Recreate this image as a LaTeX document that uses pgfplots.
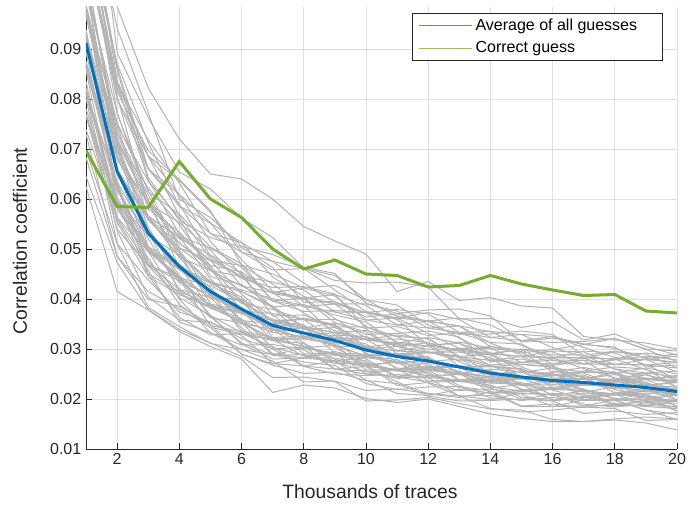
\documentclass[border=0pt]{standalone}
\usepackage{fontspec}
\setmainfont{Liberation Sans}
\usepackage{pgfplots}
\usepackage{pgfplotstable}
\pgfplotsset{compat=1.18}
\usetikzlibrary{calc}

\definecolor{avgblue}{HTML}{0072BD}
\definecolor{okgreen}{HTML}{77AC30}
\definecolor{guessgray}{RGB}{179,179,179}
\definecolor{gridgray}{RGB}{223,223,223}
\definecolor{axisgray}{RGB}{38,38,38}

% key guesses, first group (x in thousands of traces)
\pgfplotstableread{
x g1 g2 g3 g4 g5 g6 g7 g8 g9 g10 g11 g12 g13 g14 g15 g16 g17 g18 g19 g20 g21 g22 g23 g24 g25 g26 g27 g28 g29 g30 g31 g32 g33 g34 g35 g36 g37 g38 g39 g40
1 0.0625 0.0645 0.0698 0.0683 0.0739 0.0802 0.0767 0.0817 0.0835 0.0771 0.0862 0.0780 0.0814 0.0865 0.0823 0.0866 0.0929 0.0876 0.0921 0.0939 0.0866 0.0967 0.0874 0.0911 0.0967 0.0920 0.0967 0.1035 0.0975 0.1033 0.1062 0.0988 0.1111 0.1020 0.1080 0.1172 0.1147 0.1249 0.1401 0.1400
2 0.0415 0.0473 0.0511 0.0485 0.0558 0.0511 0.0540 0.0581 0.0553 0.0583 0.0625 0.0590 0.0621 0.0633 0.0585 0.0653 0.0591 0.0616 0.0655 0.0622 0.0655 0.0702 0.0661 0.0695 0.0708 0.0654 0.0729 0.0659 0.0686 0.0735 0.0705 0.0747 0.0806 0.0771 0.0823 0.0858 0.0815 0.0942 0.0893 0.0985
3 0.0378 0.0379 0.0383 0.0415 0.0457 0.0438 0.0466 0.0482 0.0445 0.0497 0.0450 0.0469 0.0499 0.0475 0.0500 0.0535 0.0506 0.0531 0.0542 0.0501 0.0559 0.0505 0.0527 0.0559 0.0531 0.0559 0.0598 0.0563 0.0592 0.0608 0.0566 0.0636 0.0580 0.0614 0.0662 0.0643 0.0697 0.0773 0.0763 0.0822
4 0.0335 0.0339 0.0345 0.0381 0.0354 0.0374 0.0403 0.0389 0.0409 0.0439 0.0415 0.0436 0.0445 0.0410 0.0459 0.0415 0.0433 0.0460 0.0438 0.0460 0.0493 0.0465 0.0488 0.0498 0.0460 0.0512 0.0463 0.0483 0.0512 0.0492 0.0521 0.0562 0.0534 0.0570 0.0590 0.0557 0.0639 0.0599 0.0654 0.0720
5 0.0305 0.0312 0.0311 0.0343 0.0333 0.0354 0.0367 0.0343 0.0383 0.0347 0.0363 0.0386 0.0367 0.0386 0.0413 0.0390 0.0410 0.0419 0.0387 0.0432 0.0390 0.0406 0.0431 0.0410 0.0432 0.0462 0.0436 0.0457 0.0466 0.0434 0.0488 0.0445 0.0467 0.0504 0.0486 0.0523 0.0577 0.0563 0.0620 0.0650
6 0.0280 0.0285 0.0299 0.0290 0.0299 0.0321 0.0310 0.0331 0.0354 0.0335 0.0352 0.0360 0.0333 0.0371 0.0336 0.0350 0.0372 0.0354 0.0372 0.0399 0.0376 0.0396 0.0404 0.0371 0.0415 0.0375 0.0391 0.0415 0.0394 0.0418 0.0452 0.0429 0.0454 0.0470 0.0441 0.0503 0.0468 0.0505 0.0562 0.0640
7 0.0213 0.0243 0.0276 0.0268 0.0289 0.0300 0.0280 0.0317 0.0287 0.0300 0.0318 0.0303 0.0319 0.0342 0.0323 0.0340 0.0346 0.0320 0.0357 0.0323 0.0337 0.0357 0.0340 0.0357 0.0383 0.0360 0.0379 0.0386 0.0356 0.0401 0.0366 0.0384 0.0411 0.0396 0.0423 0.0463 0.0450 0.0489 0.0523 0.0600
8 0.0228 0.0244 0.0234 0.0251 0.0274 0.0265 0.0282 0.0306 0.0289 0.0304 0.0311 0.0287 0.0320 0.0290 0.0303 0.0321 0.0306 0.0322 0.0345 0.0326 0.0342 0.0348 0.0322 0.0359 0.0324 0.0339 0.0359 0.0341 0.0359 0.0387 0.0368 0.0389 0.0400 0.0375 0.0425 0.0393 0.0422 0.0464 0.0462 0.0545
9 0.0222 0.0235 0.0236 0.0254 0.0267 0.0250 0.0282 0.0259 0.0271 0.0288 0.0274 0.0288 0.0310 0.0292 0.0307 0.0313 0.0289 0.0322 0.0292 0.0305 0.0323 0.0307 0.0323 0.0347 0.0327 0.0343 0.0349 0.0322 0.0359 0.0328 0.0344 0.0368 0.0353 0.0377 0.0410 0.0395 0.0427 0.0451 0.0437 0.0516
10 0.0201 0.0196 0.0217 0.0237 0.0231 0.0247 0.0268 0.0256 0.0270 0.0276 0.0255 0.0285 0.0258 0.0269 0.0286 0.0272 0.0286 0.0306 0.0289 0.0304 0.0310 0.0286 0.0319 0.0289 0.0301 0.0319 0.0303 0.0319 0.0341 0.0325 0.0344 0.0354 0.0329 0.0373 0.0342 0.0364 0.0398 0.0392 0.0432 0.0490
11 0.0193 0.0198 0.0220 0.0231 0.0219 0.0249 0.0227 0.0241 0.0256 0.0244 0.0257 0.0275 0.0259 0.0273 0.0279 0.0257 0.0288 0.0259 0.0271 0.0288 0.0274 0.0288 0.0308 0.0291 0.0305 0.0311 0.0287 0.0320 0.0290 0.0305 0.0325 0.0312 0.0331 0.0359 0.0345 0.0370 0.0388 0.0371 0.0434 0.0415
12 0.0200 0.0203 0.0211 0.0206 0.0224 0.0243 0.0233 0.0247 0.0253 0.0234 0.0260 0.0236 0.0246 0.0262 0.0249 0.0262 0.0281 0.0265 0.0278 0.0284 0.0262 0.0293 0.0265 0.0275 0.0293 0.0278 0.0293 0.0313 0.0295 0.0313 0.0321 0.0299 0.0336 0.0308 0.0327 0.0355 0.0348 0.0378 0.0424 0.0435
13 0.0185 0.0191 0.0206 0.0196 0.0225 0.0206 0.0217 0.0235 0.0223 0.0235 0.0252 0.0238 0.0250 0.0256 0.0236 0.0264 0.0238 0.0248 0.0264 0.0251 0.0264 0.0283 0.0266 0.0280 0.0286 0.0263 0.0294 0.0265 0.0276 0.0296 0.0284 0.0301 0.0324 0.0311 0.0332 0.0346 0.0329 0.0380 0.0360 0.0397
14 0.0170 0.0180 0.0181 0.0197 0.0216 0.0207 0.0220 0.0228 0.0211 0.0235 0.0213 0.0222 0.0237 0.0225 0.0237 0.0253 0.0240 0.0251 0.0257 0.0237 0.0265 0.0240 0.0249 0.0265 0.0252 0.0265 0.0283 0.0267 0.0280 0.0288 0.0268 0.0301 0.0274 0.0291 0.0313 0.0305 0.0330 0.0366 0.0361 0.0403
15 0.0161 0.0178 0.0174 0.0200 0.0186 0.0197 0.0211 0.0204 0.0215 0.0230 0.0218 0.0229 0.0233 0.0216 0.0240 0.0218 0.0227 0.0242 0.0229 0.0242 0.0259 0.0244 0.0256 0.0261 0.0241 0.0269 0.0243 0.0253 0.0269 0.0257 0.0273 0.0295 0.0280 0.0299 0.0310 0.0292 0.0336 0.0314 0.0343 0.0386
16 0.0155 0.0159 0.0178 0.0196 0.0190 0.0203 0.0209 0.0196 0.0219 0.0198 0.0207 0.0220 0.0209 0.0220 0.0236 0.0223 0.0235 0.0239 0.0220 0.0247 0.0223 0.0232 0.0247 0.0234 0.0246 0.0264 0.0248 0.0262 0.0266 0.0248 0.0278 0.0254 0.0267 0.0288 0.0277 0.0299 0.0329 0.0322 0.0354 0.0382
17 0.0155 0.0155 0.0184 0.0171 0.0183 0.0197 0.0190 0.0203 0.0217 0.0205 0.0216 0.0220 0.0203 0.0228 0.0206 0.0214 0.0228 0.0217 0.0228 0.0245 0.0231 0.0242 0.0248 0.0228 0.0254 0.0230 0.0240 0.0254 0.0242 0.0256 0.0277 0.0263 0.0278 0.0288 0.0270 0.0309 0.0287 0.0309 0.0318 0.0325
18 0.0158 0.0160 0.0181 0.0176 0.0191 0.0197 0.0184 0.0208 0.0189 0.0197 0.0209 0.0199 0.0210 0.0225 0.0212 0.0224 0.0228 0.0210 0.0234 0.0212 0.0221 0.0235 0.0224 0.0235 0.0251 0.0237 0.0249 0.0254 0.0234 0.0264 0.0240 0.0252 0.0269 0.0260 0.0278 0.0304 0.0296 0.0321 0.0330 0.0318
19 0.0152 0.0164 0.0157 0.0169 0.0185 0.0178 0.0190 0.0206 0.0194 0.0204 0.0209 0.0193 0.0215 0.0195 0.0204 0.0216 0.0205 0.0216 0.0232 0.0219 0.0230 0.0234 0.0216 0.0242 0.0218 0.0227 0.0241 0.0229 0.0241 0.0260 0.0248 0.0262 0.0269 0.0252 0.0286 0.0264 0.0283 0.0300 0.0305 0.0312
20 0.0138 0.0160 0.0159 0.0173 0.0181 0.0169 0.0192 0.0176 0.0183 0.0195 0.0186 0.0196 0.0210 0.0198 0.0208 0.0212 0.0196 0.0219 0.0198 0.0207 0.0219 0.0208 0.0219 0.0234 0.0222 0.0233 0.0237 0.0219 0.0244 0.0223 0.0234 0.0250 0.0239 0.0256 0.0278 0.0268 0.0290 0.0296 0.0288 0.0300
}\guessesA

% key guesses, second group
\pgfplotstableread{
x h1 h2 h3 h4 h5 h6 h7 h8 h9 h10 h11 h12 h13 h14 h15 h16 h17 h18 h19 h20 h21 h22 h23 h24 h25 h26 h27 h28
1 0.0730 0.0812 0.0812 0.0766 0.0766 0.0857 0.0866 0.0812 0.0821 0.0894 0.0976 0.0976 0.0930 0.0930 0.1021 0.1031 0.0976 0.0985 0.1058 0.1140 0.1140 0.1094 0.1094 0.1186 0.1195 0.1140 0.1149 0.1222
2 0.0485 0.0537 0.0596 0.0596 0.0563 0.0563 0.0629 0.0635 0.0596 0.0603 0.0655 0.0714 0.0714 0.0681 0.0681 0.0747 0.0753 0.0714 0.0721 0.0773 0.0832 0.0832 0.0799 0.0799 0.0865 0.0871 0.0832 0.0838
3 0.0399 0.0404 0.0447 0.0495 0.0495 0.0468 0.0468 0.0521 0.0527 0.0495 0.0500 0.0543 0.0591 0.0591 0.0564 0.0564 0.0617 0.0622 0.0591 0.0596 0.0638 0.0686 0.0686 0.0660 0.0660 0.0713 0.0718 0.0686
4 0.0386 0.0358 0.0363 0.0400 0.0442 0.0442 0.0419 0.0419 0.0465 0.0470 0.0442 0.0446 0.0484 0.0525 0.0525 0.0502 0.0502 0.0549 0.0553 0.0525 0.0530 0.0567 0.0609 0.0609 0.0586 0.0586 0.0632 0.0637
5 0.0349 0.0353 0.0328 0.0332 0.0365 0.0403 0.0403 0.0382 0.0382 0.0423 0.0427 0.0403 0.0407 0.0440 0.0477 0.0477 0.0457 0.0457 0.0498 0.0502 0.0477 0.0481 0.0515 0.0552 0.0552 0.0531 0.0531 0.0573
6 0.0289 0.0327 0.0331 0.0308 0.0312 0.0342 0.0376 0.0376 0.0357 0.0357 0.0395 0.0399 0.0376 0.0380 0.0410 0.0445 0.0445 0.0426 0.0426 0.0464 0.0467 0.0445 0.0448 0.0479 0.0513 0.0513 0.0494 0.0494
7 0.0271 0.0271 0.0305 0.0309 0.0288 0.0291 0.0319 0.0350 0.0350 0.0333 0.0333 0.0368 0.0371 0.0350 0.0354 0.0382 0.0413 0.0413 0.0396 0.0396 0.0430 0.0434 0.0413 0.0416 0.0444 0.0475 0.0475 0.0458
8 0.0282 0.0266 0.0266 0.0299 0.0302 0.0282 0.0286 0.0312 0.0342 0.0342 0.0325 0.0325 0.0359 0.0362 0.0342 0.0345 0.0372 0.0402 0.0402 0.0385 0.0385 0.0418 0.0422 0.0402 0.0405 0.0432 0.0461 0.0461
9 0.0276 0.0276 0.0260 0.0260 0.0292 0.0295 0.0276 0.0279 0.0304 0.0333 0.0333 0.0317 0.0317 0.0349 0.0352 0.0333 0.0336 0.0361 0.0390 0.0390 0.0374 0.0374 0.0406 0.0409 0.0390 0.0393 0.0418 0.0447
10 0.0238 0.0265 0.0265 0.0250 0.0250 0.0280 0.0283 0.0265 0.0268 0.0292 0.0319 0.0319 0.0304 0.0304 0.0334 0.0337 0.0319 0.0322 0.0346 0.0373 0.0373 0.0358 0.0358 0.0387 0.0390 0.0373 0.0375 0.0399
11 0.0211 0.0234 0.0259 0.0259 0.0245 0.0245 0.0274 0.0276 0.0259 0.0262 0.0285 0.0311 0.0311 0.0296 0.0296 0.0325 0.0328 0.0311 0.0314 0.0336 0.0362 0.0362 0.0348 0.0348 0.0376 0.0379 0.0362 0.0365
12 0.0207 0.0210 0.0232 0.0257 0.0257 0.0243 0.0243 0.0270 0.0273 0.0257 0.0259 0.0282 0.0306 0.0306 0.0293 0.0293 0.0320 0.0323 0.0306 0.0309 0.0331 0.0356 0.0356 0.0342 0.0342 0.0370 0.0373 0.0356
13 0.0219 0.0203 0.0206 0.0227 0.0251 0.0251 0.0238 0.0238 0.0264 0.0267 0.0251 0.0253 0.0275 0.0298 0.0298 0.0285 0.0285 0.0312 0.0314 0.0298 0.0301 0.0322 0.0346 0.0346 0.0333 0.0333 0.0359 0.0362
14 0.0212 0.0214 0.0199 0.0202 0.0222 0.0244 0.0244 0.0232 0.0232 0.0257 0.0260 0.0244 0.0247 0.0267 0.0290 0.0290 0.0277 0.0277 0.0302 0.0305 0.0290 0.0292 0.0312 0.0335 0.0335 0.0323 0.0323 0.0348
15 0.0185 0.0210 0.0212 0.0198 0.0200 0.0220 0.0242 0.0242 0.0229 0.0229 0.0254 0.0256 0.0242 0.0244 0.0264 0.0285 0.0285 0.0273 0.0273 0.0298 0.0300 0.0285 0.0288 0.0307 0.0329 0.0329 0.0317 0.0317
16 0.0185 0.0185 0.0209 0.0211 0.0197 0.0199 0.0218 0.0239 0.0239 0.0228 0.0228 0.0251 0.0254 0.0239 0.0242 0.0261 0.0282 0.0282 0.0270 0.0270 0.0294 0.0296 0.0282 0.0284 0.0303 0.0325 0.0325 0.0313
17 0.0198 0.0186 0.0186 0.0210 0.0212 0.0198 0.0200 0.0219 0.0240 0.0240 0.0228 0.0228 0.0252 0.0254 0.0240 0.0242 0.0261 0.0282 0.0282 0.0270 0.0270 0.0294 0.0296 0.0282 0.0284 0.0303 0.0310 0.0315
18 0.0198 0.0198 0.0187 0.0187 0.0210 0.0212 0.0198 0.0201 0.0219 0.0239 0.0239 0.0228 0.0228 0.0251 0.0253 0.0239 0.0242 0.0260 0.0280 0.0280 0.0269 0.0269 0.0292 0.0294 0.0280 0.0283 0.0301 0.0321
19 0.0178 0.0198 0.0198 0.0187 0.0187 0.0210 0.0212 0.0198 0.0201 0.0219 0.0239 0.0239 0.0227 0.0227 0.0250 0.0252 0.0239 0.0241 0.0259 0.0279 0.0279 0.0268 0.0268 0.0290 0.0292 0.0279 0.0281 0.0299
20 0.0159 0.0176 0.0196 0.0196 0.0185 0.0185 0.0206 0.0209 0.0196 0.0198 0.0215 0.0234 0.0234 0.0224 0.0224 0.0245 0.0247 0.0234 0.0237 0.0254 0.0273 0.0273 0.0262 0.0262 0.0284 0.0286 0.0273 0.0275
}\guessesB

\pgfplotstableread{
x avg correct
1 0.0912 0.0697
2 0.0655 0.0585
3 0.0532 0.0583
4 0.0465 0.0675
5 0.0415 0.0600
6 0.0380 0.0563
7 0.0347 0.0500
8 0.0332 0.0460
9 0.0317 0.0478
10 0.0298 0.0450
11 0.0285 0.0447
12 0.0276 0.0424
13 0.0264 0.0427
14 0.0252 0.0447
15 0.0244 0.0430
16 0.0237 0.0418
17 0.0233 0.0407
18 0.0228 0.0409
19 0.0223 0.0376
20 0.0215 0.0372
}\summary

\begin{document}
\begin{tikzpicture}
\begin{axis}[
    scale only axis,
    width=443.25pt, height=331.5pt,
    xmin=1, xmax=20,
    ymin=0.01, ymax=0.0984,
    xtick={2,4,...,20},
    ytick={0.01,0.02,0.03,0.04,0.05,0.06,0.07,0.08,0.09},
    scaled y ticks=false,
    grid=major,
    major grid style={gridgray, line width=0.5pt},
    axis x line*=bottom,
    axis y line*=left,
    axis line style={axisgray, line width=0.6pt},
    tick style={axisgray, line width=0.6pt},
    tick align=inside,
    major tick length=4.5pt,
    /pgf/number format/assume math mode=true,
    ticklabel style={font=\fontsize{12}{14}\selectfont, text=axisgray},
    yticklabel style={/pgf/number format/fixed, /pgf/number format/precision=2,
        /pgf/number format/fixed zerofill},
    xlabel={Thousands of traces},
    ylabel={Correlation coefficient},
    label style={font=\fontsize{14.5}{17}\selectfont, text=axisgray},
    xlabel style={at={(axis description cs:0.4805,-0.0973)}, anchor=center},
    ylabel style={at={(axis description cs:-0.1117,0.4706)}, anchor=center},
    legend style={at={(rel axis cs:0.976,0.986)}, anchor=north east,
        draw=axisgray, line width=0.5pt, font=\fontsize{12}{14}\selectfont,
        row sep=3pt, inner xsep=4pt, inner ysep=2pt},
    legend cell align=left,
    legend image code/.code={\draw[#1, line width=1.1pt, draw opacity=0.75] (0pt,0pt) -- (40pt,0pt);},
]
\pgfplotsinvokeforeach{1,...,40}{
    \addplot[guessgray, line width=0.75pt, forget plot] table[x index=0, y index=#1] {\guessesA};
}
\pgfplotsinvokeforeach{1,...,28}{
    \addplot[guessgray, line width=0.75pt, forget plot] table[x index=0, y index=#1] {\guessesB};
}
\addplot[draw=avgblue, line width=2.25pt] table[x=x, y=avg] {\summary};
\addlegendentry{Average of all guesses\kern13pt}
\addplot[draw=okgreen, line width=2.25pt] table[x=x, y=correct] {\summary};
\addlegendentry{Correct guess}
\coordinate (ll) at (rel axis cs:0,0);
\coordinate (ur) at (rel axis cs:1,1);
\end{axis}
\pgfresetboundingbox
\path[use as bounding box] ($(ll)+(-64.5pt,-42.75pt)$) rectangle ($(ur)+(8.25pt,5.25pt)$);
\end{tikzpicture}
\end{document}
